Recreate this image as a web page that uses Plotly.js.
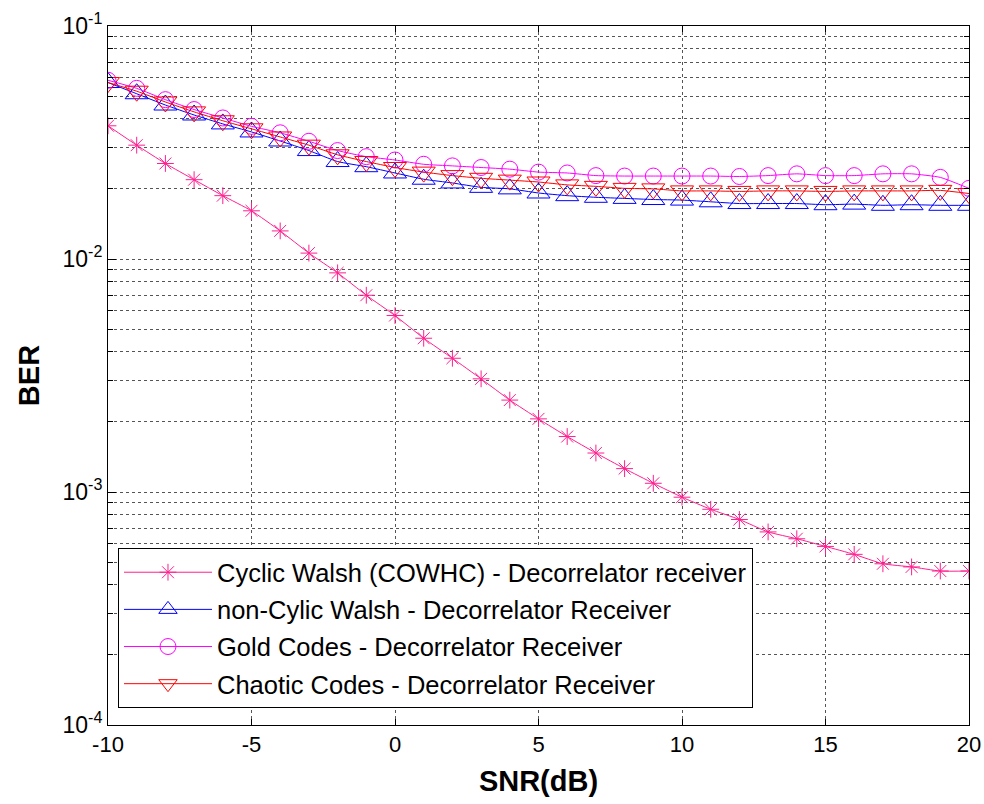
<!DOCTYPE html>
<html>
<head>
<meta charset="utf-8">
<script src="https://cdn.plot.ly/plotly-3.0.1.min.js"></script>
<style>
  html, body { margin: 0; padding: 0; background: #ffffff; }
  #chart { width: 984px; height: 804px; }
</style>
</head>
<body>
<div id="chart"></div>
<script>
// SNR sweep in dB
const snrDb = [-10, -9, -8, -7, -6, -5, -4, -3, -2, -1, 0, 1, 2, 3, 4, 5, 6, 7, 8, 9, 10,
               11, 12, 13, 14, 15, 16, 17, 18, 19, 20];

// Bit error rates for each spreading code family (decorrelator receiver)
const berCyclicWalsh = [0.0373, 0.0308, 0.0257, 0.0219, 0.0187, 0.0161, 0.0132, 0.0106, 0.00872, 0.00699,
                        0.00572, 0.00457, 0.00375, 0.00306, 0.00248, 0.00206, 0.00173, 0.00147, 0.00126, 0.00109,
                        0.000950, 0.000843, 0.000762, 0.000674, 0.000630, 0.000584, 0.000540, 0.000492, 0.000477, 0.000458,
                        0.000458];
const berNonCyclicWalsh = [0.0572, 0.0512, 0.0458, 0.0415, 0.0380, 0.0351, 0.0321, 0.0292, 0.0262, 0.0249,
                           0.0234, 0.0220, 0.0212, 0.0203, 0.0200, 0.0192, 0.0187, 0.0184, 0.0182, 0.0180,
                           0.0179, 0.0176, 0.0173, 0.0173, 0.0173, 0.0171, 0.0172, 0.0170, 0.0171, 0.0170,
                           0.0170];
const berGold = [0.0585, 0.0540, 0.0483, 0.0438, 0.0403, 0.0371, 0.0348, 0.0320, 0.0292, 0.0275,
                 0.0266, 0.0255, 0.0251, 0.0247, 0.0243, 0.0236, 0.0234, 0.0228, 0.0227, 0.0227,
                 0.0227, 0.0227, 0.0226, 0.0228, 0.0232, 0.0228, 0.0228, 0.0232, 0.0232, 0.0224,
                 0.0201];
const berChaotic = [0.0572, 0.0525, 0.0472, 0.0428, 0.0392, 0.0362, 0.0334, 0.0308, 0.0280, 0.0262,
                    0.0247, 0.0236, 0.0228, 0.0222, 0.0218, 0.0214, 0.0208, 0.0205, 0.0201, 0.0200,
                    0.0196, 0.0196, 0.0195, 0.0196, 0.0196, 0.0195, 0.0196, 0.0196, 0.0196, 0.0197,
                    0.0191];

const seriesNames = [
  'Cyclic Walsh (COWHC) - Decorrelator receiver',
  'non-Cylic Walsh - Decorrelator Receiver',
  'Gold Codes - Decorrelator Receiver',
  'Chaotic Codes - Decorrelator Receiver'
];

// Decade tick labels for the BER axis
const berTickVals = [1e-4, 1e-3, 1e-2, 1e-1];
const berTickText = ['10<sup>-4</sup>', '10<sup>-3</sup>', '10<sup>-2</sup>', '10<sup>-1</sup>'];
const berMinorVals = [];
[1e-4, 1e-3, 1e-2].forEach(function (dec) {
  for (let k = 2; k <= 9; k++) berMinorVals.push(k * dec);
});

const snrTickVals = [-10, -5, 0, 5, 10, 15, 20];
const snrTickText = ['-10', '-5', '0', '5', '10', '15', '20'];

const FONT = 'Arial, "Liberation Sans", Helvetica, sans-serif';

function series(y, name, color, symbol, size, group) {
  return {
    x: snrDb, y: y, name: name, type: 'scatter', mode: 'lines+markers',
    legendgroup: group,
    line: { color: color, width: 1, shape: 'spline', smoothing: 0.5 },
    marker: { symbol: symbol, size: size, color: color, line: { color: color, width: 1 } }
  };
}

const traces = [
  series(berCyclicWalsh, seriesNames[0], '#ff1f8f', 'asterisk-open', 14, 'g1'),
  series(berNonCyclicWalsh, seriesNames[1], '#0000ff', 'triangle-up-open', 20, 'g2'),
  series(berGold, seriesNames[2], '#ff00ff', 'circle-open', 16, 'g3'),
  series(berChaotic, seriesNames[3], '#ff0000', 'triangle-down-open', 20, 'g4')
];

const gridColor = '#555555';

const layout = {
  width: 984, height: 804,
  margin: { l: 108, r: 15, t: 26, b: 79 },
  paper_bgcolor: '#ffffff', plot_bgcolor: '#ffffff',
  font: { family: FONT, color: '#000000', size: 22 },
  showlegend: true,
  legend: {
    x: 0.0116, y: 0.253, xanchor: 'left', yanchor: 'top',
    bgcolor: '#ffffff', bordercolor: '#000000', borderwidth: 1,
    font: { family: FONT, size: 25.5, color: '#000000' },
    itemwidth: 88, tracegroupgap: 1, traceorder: 'grouped'
  },
  xaxis: {
    range: [-10, 20], tickmode: 'array', tickvals: snrTickVals, ticktext: snrTickText,
    ticks: 'inside', ticklen: 6, tickcolor: '#000000',
    showline: true, linecolor: '#000000', linewidth: 1, mirror: 'ticks',
    showgrid: true, gridcolor: gridColor, griddash: 'dot', gridwidth: 1,
    zeroline: false,
    tickfont: { family: FONT, size: 22 },
    title: { text: '<b>SNR(dB)</b>', font: { family: FONT, size: 29 }, standoff: 14 }
  },
  yaxis: {
    type: 'log', range: [-4, -1],
    tickmode: 'array', tickvals: berTickVals, ticktext: berTickText,
    ticks: 'inside', ticklen: 8, tickcolor: '#000000',
    showline: true, linecolor: '#000000', linewidth: 1, mirror: 'ticks',
    showgrid: true, gridcolor: gridColor, griddash: 'dot', gridwidth: 1,
    zeroline: false,
    minor: {
      tickmode: 'array', tickvals: berMinorVals, ticks: 'inside', ticklen: 5,
      tickcolor: '#000000', showgrid: true, gridcolor: gridColor, griddash: 'dot', gridwidth: 1
    },
    tickfont: { family: FONT, size: 23 },
    title: { text: '<b>BER</b>', font: { family: FONT, size: 29 }, standoff: 14 }
  }
};

Plotly.newPlot('chart', traces, layout, { staticPlot: true, displayModeBar: false });
</script>
</body>
</html>
